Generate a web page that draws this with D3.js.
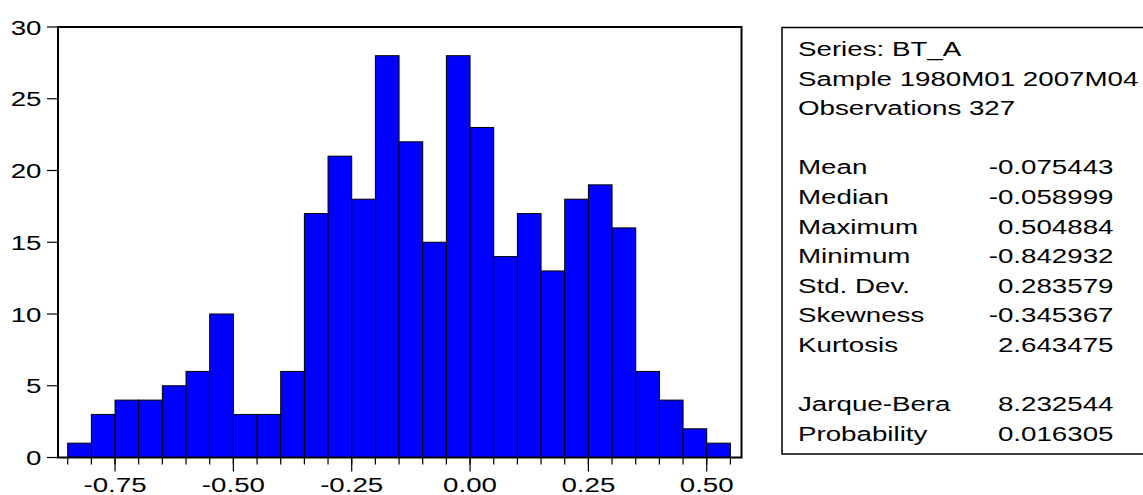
<!DOCTYPE html>
<html>
<head>
<meta charset="utf-8">
<script src="https://cdn.jsdelivr.net/npm/d3@7/dist/d3.min.js"></script>
<style>
  html, body { margin: 0; padding: 0; background: #fff; }
  svg { display: block; }
  text { font-family: "Liberation Sans", Arial, sans-serif; fill: #000; }
</style>
</head>
<body>
<svg id="chart" width="1143" height="495"></svg>
<script>
// Histogram of BT_A: lower edge of each bin and the number of observations in it
const binLow = [-0.85, -0.80, -0.75, -0.70, -0.65, -0.60, -0.55, -0.50, -0.45, -0.40,
                -0.35, -0.30, -0.25, -0.20, -0.15, -0.10, -0.05, 0.00, 0.05, 0.10,
                0.15, 0.20, 0.25, 0.30, 0.35, 0.40, 0.45, 0.50];
const counts = [1, 3, 4, 4, 5, 6, 10, 3, 3, 6,
                17, 21, 18, 28, 22, 15, 28, 23, 14, 17,
                13, 18, 19, 16, 6, 4, 2, 1];
const binWidth = 0.05;

const xMajorTicks = [-0.75, -0.50, -0.25, 0.00, 0.25, 0.50];
const xTickLabels = ["-0.75", "-0.50", "-0.25", "0.00", "0.25", "0.50"];
const yTicks = [0, 5, 10, 15, 20, 25, 30];

// Descriptive statistics panel
const headerLines = ["Series: BT_A", "Sample 1980M01 2007M04", "Observations 327"];
const statNames = ["Mean", "Median", "Maximum", "Minimum", "Std. Dev.", "Skewness", "Kurtosis"];
const statValues = ["-0.075443", "-0.058999", "0.504884", "-0.842932", "0.283579", "-0.345367", "2.643475"];
const testNames = ["Jarque-Bera", "Probability"];
const testValues = ["8.232544", "0.016305"];

const svg = d3.select("#chart");

const FONT = 21;      // glyph height
const STRETCH = 1.32; // wide lettering

// Plot frame
const frame = { left: 58, right: 741.5, top: 27, bottom: 457.5 };

const x = d3.scaleLinear().domain([-0.85, 0.55]).range([67.7, 730.4]);
const y = d3.scaleLinear().domain([0, 30]).range([frame.bottom, frame.top]);

function label(parent, tx, ty, str, anchor, dy) {
  const g = parent.append("g")
    .attr("transform", `translate(${tx},${ty}) scale(${STRETCH},1)`);
  g.append("text")
    .attr("x", 0).attr("y", 0)
    .attr("dy", dy || 0)
    .attr("text-anchor", anchor)
    .style("font-size", FONT + "px")
    .text(str);
  return g;
}

// Bars
svg.append("g")
  .selectAll("rect")
  .data(counts)
  .join("rect")
  .attr("x", (d, i) => x(binLow[i]))
  .attr("width", (d, i) => x(binLow[i] + binWidth) - x(binLow[i]))
  .attr("y", d => y(d))
  .attr("height", d => y(0) - y(d))
  .attr("fill", "#0000ff")
  .attr("stroke", "#000")
  .attr("stroke-width", 1);

// Frame around the plot area
svg.append("rect")
  .attr("x", frame.left).attr("y", frame.top)
  .attr("width", frame.right - frame.left)
  .attr("height", frame.bottom - frame.top)
  .attr("fill", "none")
  .attr("stroke", "#000")
  .attr("stroke-width", 2);

// Y axis ticks and labels
const yAxis = svg.append("g");
yAxis.selectAll("line")
  .data(yTicks)
  .join("line")
  .attr("x1", frame.left - 11).attr("x2", frame.left)
  .attr("y1", d => y(d)).attr("y2", d => y(d))
  .attr("stroke", "#000").attr("stroke-width", 1.2);
yTicks.forEach(t => label(yAxis, 41.5, y(t), String(t), "end", "0.36em"));

// X axis: minor ticks at every bin edge, longer ticks at labelled values
const xAxis = svg.append("g");
const edges = binLow.concat([binLow[binLow.length - 1] + binWidth]);
xAxis.selectAll("line.minor")
  .data(edges)
  .join("line")
  .attr("class", "minor")
  .attr("x1", d => x(d)).attr("x2", d => x(d))
  .attr("y1", frame.bottom).attr("y2", frame.bottom + 7)
  .attr("stroke", "#000").attr("stroke-width", 1.2);
xAxis.selectAll("line.major")
  .data(xMajorTicks)
  .join("line")
  .attr("class", "major")
  .attr("x1", d => x(d)).attr("x2", d => x(d))
  .attr("y1", frame.bottom).attr("y2", frame.bottom + 14)
  .attr("stroke", "#000").attr("stroke-width", 1.2);
xMajorTicks.forEach((t, i) => label(xAxis, x(t), 491.5, xTickLabels[i], "middle"));

// Statistics box
const box = { left: 782, top: 27.5, bottom: 454, right: 1150 };
const panel = svg.append("g");
panel.append("rect")
  .attr("x", box.left).attr("y", box.top)
  .attr("width", box.right - box.left)
  .attr("height", box.bottom - box.top)
  .attr("fill", "#fff")
  .attr("stroke", "#000")
  .attr("stroke-width", 1.5);

const textLeft = 798;
const valueRight = 1113.5;
const firstBaseline = 56;
const lineStep = 29.6;

headerLines.forEach((s, i) => label(panel, textLeft, firstBaseline + i * lineStep, s, "start"));
statNames.forEach((s, i) => {
  const by = firstBaseline + (i + 4) * lineStep;
  label(panel, textLeft, by, s, "start");
  label(panel, valueRight, by, statValues[i], "end");
});
testNames.forEach((s, i) => {
  const by = firstBaseline + (i + 12) * lineStep;
  label(panel, textLeft, by, s, "start");
  label(panel, valueRight, by, testValues[i], "end");
});
</script>
</body>
</html>
